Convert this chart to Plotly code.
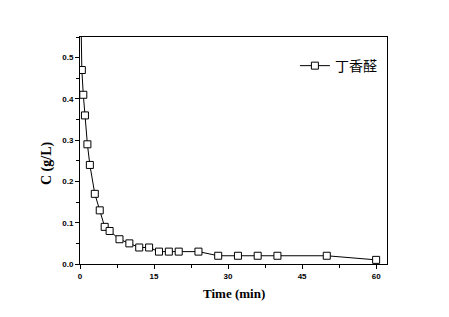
import plotly.graph_objects as go

time_min = [0, 0.37, 0.67, 1, 1.5, 2, 3, 4, 5, 6, 8, 10, 12, 14, 16, 18, 20, 24, 28, 32, 36, 40, 50, 60]
conc = [0.75, 0.47, 0.41, 0.36, 0.29, 0.24, 0.17, 0.13, 0.09, 0.08, 0.06, 0.05, 0.04, 0.04,
        0.03, 0.03, 0.03, 0.03, 0.02, 0.02, 0.02, 0.02, 0.02, 0.01]
series_name = "丁香醛"
x_ticks = [0, 15, 30, 45, 60]
y_ticks = [0.0, 0.1, 0.2, 0.3, 0.4, 0.5]
y_tick_text = ["0.0", "0.1", "0.2", "0.3", "0.4", "0.5"]

fig = go.Figure()
fig.add_trace(go.Scatter(
    x=time_min, y=conc, mode="lines+markers", name=series_name,
    line=dict(color="black", width=1),
    marker=dict(symbol="square", size=7, color="white", line=dict(color="black", width=1)),
))

tickfont = dict(family="Liberation Sans, Arial", size=8, color="black", weight="bold")
fig.update_layout(
    width=449, height=317,
    margin=dict(l=80, r=62, t=37, b=53),
    paper_bgcolor="white", plot_bgcolor="white",
    showlegend=True,
    legend=dict(x=0.70, y=0.872, xanchor="left", yanchor="middle",
                bgcolor="rgba(0,0,0,0)",
                font=dict(family="Noto Sans CJK SC", size=14, color="black")),
    xaxis=dict(range=[0, 62.2], tickvals=x_ticks, ticks="outside", ticklen=4, tickwidth=1,
               tickcolor="black", showline=True, linecolor="black", linewidth=1, mirror=True,
               showgrid=False, zeroline=False, tickfont=tickfont,
               minor=dict(dtick=7.5, tick0=0, ticks="outside", ticklen=3, tickcolor="black", showgrid=False)),
    yaxis=dict(range=[0, 0.55], tickvals=y_ticks, ticktext=y_tick_text, ticks="outside", ticklen=4,
               tickwidth=1, tickcolor="black", showline=True, linecolor="black", linewidth=1,
               mirror=True, showgrid=False, zeroline=False, tickfont=tickfont,
               minor=dict(dtick=0.05, tick0=0, ticks="outside", ticklen=3, tickcolor="black", showgrid=False)),
    annotations=[
        dict(text="Time (min)", xref="paper", yref="paper", x=0.5, y=-(293 - 264) / 227,
             xanchor="center", yanchor="middle", showarrow=False,
             font=dict(family="Liberation Serif, Times New Roman", size=13, color="black", weight="bold")),
        dict(text="C (g/L)", xref="paper", yref="paper", x=-(80 - 47) / 307, y=(264 - 163) / 227,
             xanchor="center", yanchor="middle", showarrow=False, textangle=-90,
             font=dict(family="Liberation Serif, Times New Roman", size=14, color="black", weight="bold")),
    ],
)

fig.write_html("out.html")
